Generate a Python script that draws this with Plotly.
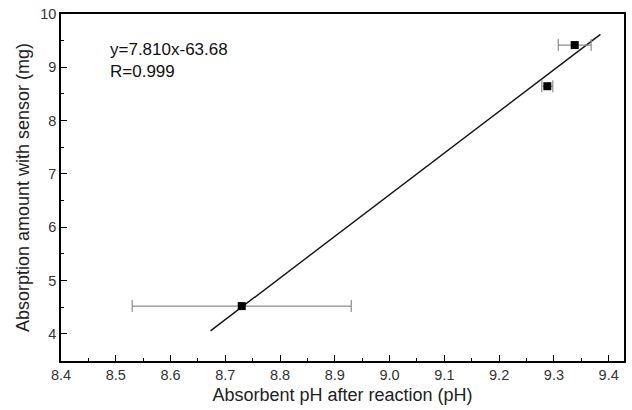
import plotly.graph_objects as go

# Measured points: absorbent pH after reaction vs. absorption amount
ph = [8.73, 9.288, 9.338]
amount = [4.52, 8.645, 9.417]
ph_err = [0.20, 0.01, 0.03]

# Linear fit stated on the chart
slope = 7.810
intercept = -63.68
fit_x = [8.673, 9.385]
fit_y = [slope * x + intercept for x in fit_x]

font = "Liberation Sans, Arial, sans-serif"

fig = go.Figure()
fig.add_trace(go.Scatter(
    x=fit_x, y=fit_y, mode="lines",
    line=dict(color="#111111", width=1.4),
    showlegend=False, hoverinfo="skip",
))
fig.add_trace(go.Scatter(
    x=ph, y=amount, mode="markers",
    marker=dict(symbol="square", size=8, color="black"),
    error_x=dict(type="data", array=ph_err, color="#8c8c8c", thickness=1.2, width=6),
    showlegend=False,
))

axis_common = dict(
    showline=True, linecolor="black", linewidth=1.5, mirror=True,
    ticks="inside", ticklen=6, tickwidth=1.3, tickcolor="black",
    showgrid=False, zeroline=False,
    tickfont=dict(family=font, size=14.5, color="#333333"),
    title_font=dict(family=font, size=18, color="#222222"),
)

fig.update_xaxes(
    range=[8.4, 9.428], tick0=8.4, dtick=0.1, tickformat=".1f",
    minor=dict(ticks="inside", ticklen=3, tickwidth=1.2, tickcolor="black", dtick=0.05, tick0=8.4),
    title_text="Absorbent pH after reaction (pH)", title_standoff=6,
    **axis_common,
)
fig.update_yaxes(
    range=[3.49, 10.0], tick0=4, dtick=1,
    minor=dict(ticks="inside", ticklen=3, tickwidth=1.2, tickcolor="black", dtick=0.5, tick0=4),
    title_text="Absorption amount with sensor (mg)", title_standoff=6,
    **axis_common,
)

fig.add_annotation(
    xref="paper", yref="paper", x=0.083, y=0.867, xanchor="left", yanchor="middle",
    text="y=7.810x-63.68<br>R=0.999", align="left", showarrow=False,
    font=dict(family=font, size=17, color="#111111"),
)

fig.update_layout(
    width=632, height=410,
    margin=dict(l=61, r=6, t=11, b=49),
    plot_bgcolor="white", paper_bgcolor="white",
)

fig.write_html("out.html")
